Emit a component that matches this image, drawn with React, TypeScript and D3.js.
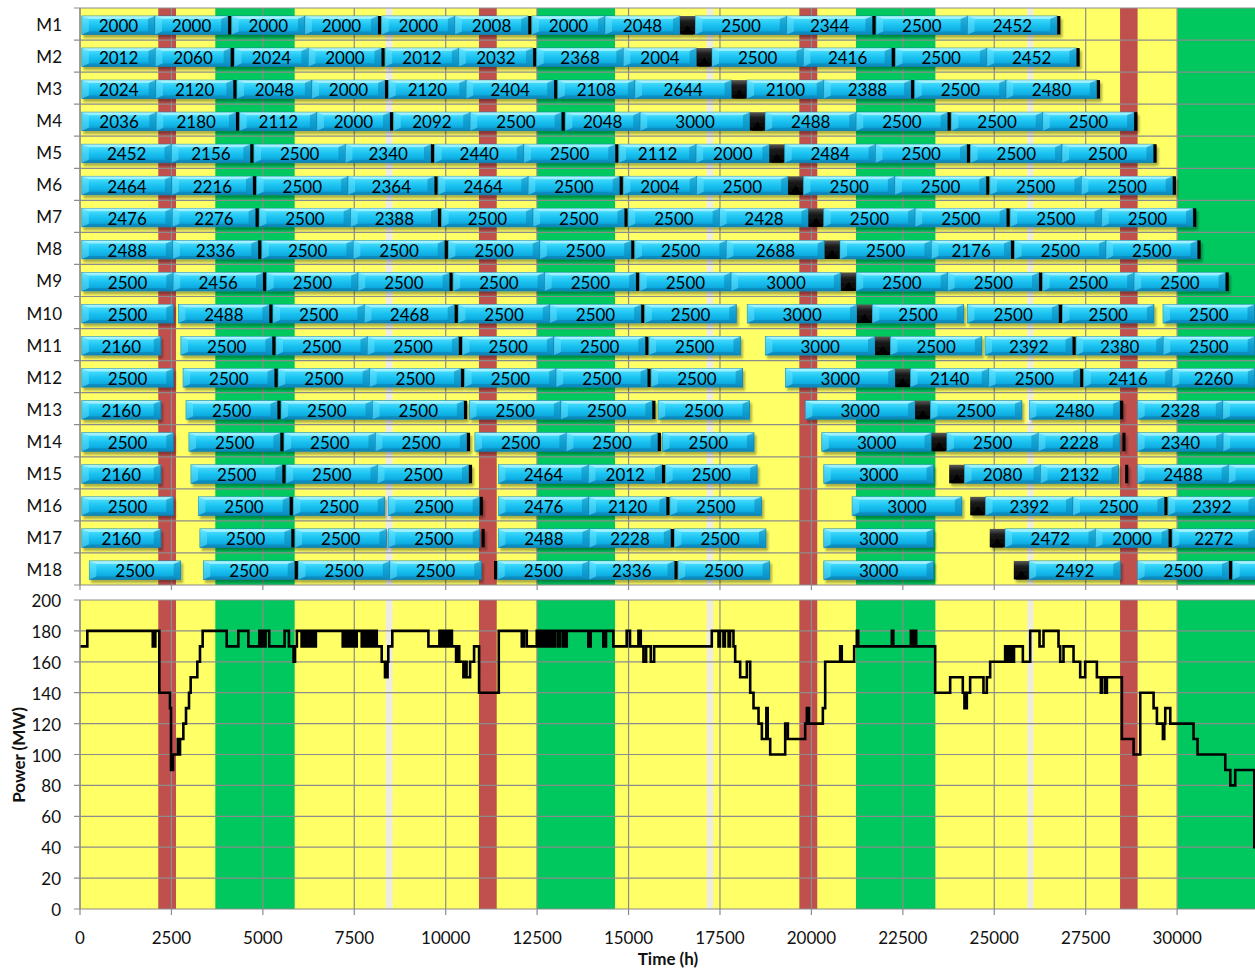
import React, { useEffect, useRef } from "react";
import * as d3 from "d3";

// --- time axis (hours) and background periods ---
const X_MAX = 32130;
const timeTicks = [0, 2500, 5000, 7500, 10000, 12500, 15000, 17500, 20000, 22500, 25000, 27500, 30000];
const powerTicks = [0, 20, 40, 60, 80, 100, 120, 140, 160, 180, 200];

const redStart = [2140, 10910, 19670, 28440];
const redEnd = [2625, 11395, 20160, 28920];
const greenStart = [3700, 12488, 21220, 30005];
const greenEnd = [5870, 14630, 23390, X_MAX];
const greyStart = [8360, 17137, 25905];
const greyEnd = [8550, 17318, 26070];

// --- machine schedules ---
// positive number = running hours (labelled bar), negative number = idle hours,
// "m" = short maintenance stop, "M" = major overhaul
type Seg = number | "m" | "M";
const START_H = 50;
const MINOR_H = 100;
const MAJOR_H = 420;

const M1: Seg[] = [2000, 2000, "m", 2000, 2000, "m", 2000, 2008, "m", 2000, 2048, "M", 2500, 2344, "m", 2500, 2452, "m"];
const M2: Seg[] = [2012, 2060, "m", 2024, 2000, "m", 2012, 2032, "m", 2368, 2004, "M", 2500, 2416, "m", 2500, 2452, "m"];
const M3: Seg[] = [2024, 2120, "m", 2048, 2000, "m", 2120, 2404, "m", 2108, 2644, "M", 2100, 2388, "m", 2500, 2480, "m"];
const M4: Seg[] = [2036, 2180, "m", 2112, 2000, "m", 2092, 2500, "m", 2048, 3000, "M", 2488, 2500, "m", 2500, 2500, "m"];
const M5: Seg[] = [2452, 2156, "m", 2500, 2340, "m", 2440, 2500, "m", 2112, 2000, "M", 2484, 2500, "m", 2500, 2500, "m"];
const M6: Seg[] = [2464, 2216, "m", 2500, 2364, "m", 2464, 2500, "m", 2004, 2500, "M", 2500, 2500, "m", 2500, 2500, "m"];
const M7: Seg[] = [2476, 2276, "m", 2500, 2388, "m", 2500, 2500, "m", 2500, 2428, "M", 2500, 2500, "m", 2500, 2500, "m"];
const M8: Seg[] = [2488, 2336, "m", 2500, 2500, "m", 2500, 2500, "m", 2500, 2688, "M", 2500, 2176, "m", 2500, 2500, "m"];
const M9: Seg[] = [2500, 2456, "m", 2500, 2500, "m", 2500, 2500, "m", 2500, 3000, "M", 2500, 2500, "m", 2500, 2500, "m"];
const M10: Seg[] = [2500, -140, 2488, "m", 2500, 2468, "m", 2500, 2500, "m", 2500, -300, 3000, "M", 2500, -100, 2500, "m", 2500, -250, 2500];
const M11: Seg[] = [2160, -550, 2500, "m", 2500, 2500, "m", 2500, 2500, "m", 2500, -680, 3000, "M", 2500, -90, 2392, "m", 2380, 2500];
const M12: Seg[] = [2500, -270, 2500, "m", 2500, 2500, "m", 2500, 2500, "m", 2500, -1170, 3000, "M", 2140, 2500, "m", 2416, 2260];
const M13: Seg[] = [2160, -690, 2500, "m", 2500, 2500, "m", -50, 2500, 2500, "m", -60, 2500, -1525, 3000, "M", 2500, -205, 2480, "m", -383, 2328, 2500];
const M14: Seg[] = [2500, -430, 2500, "m", 2500, 2500, "m", -120, 2500, 2500, "m", -30, 2500, -1855, 3000, "M", 2500, 2228, -70, "m", -317, 2340, 2500];
const M15: Seg[] = [2160, -825, 2500, "m", 2500, 2500, "m", -705, 2464, 2012, "m", 2500, -1824, 3000, -427, "M", 2080, 2132, -180, "m", -240, 2488, 2500];
const M16: Seg[] = [2500, -685, 2500, "m", 2500, -95, 2500, "m", -410, 2476, 2120, "m", 2500, -2478, 3000, -228, "M", 2392, 2500, "m", 2392];
const M17: Seg[] = [2160, -1070, 2500, "m", 2500, -50, 2500, -50, "m", -360, 2488, 2228, "m", 2500, -1584, 3000, -1537, "M", 2472, 2000, "m", 2272];
const M18: Seg[] = [-204, 2500, -618, 2500, "m", 2500, 2500, -350, "m", 2500, 2336, "m", 2500, -1482, 3000, -2195, "M", 2492, -473, 2500, "m", 2500];

const machineNames = ["M1", "M2", "M3", "M4", "M5", "M6", "M7", "M8", "M9", "M10", "M11", "M12", "M13", "M14", "M15", "M16", "M17", "M18"];
const schedules = [M1, M2, M3, M4, M5, M6, M7, M8, M9, M10, M11, M12, M13, M14, M15, M16, M17, M18];

// --- plant power output, step changes [hour, MW] ---
const powerSteps: [number, number][] = [
  [0, 170], [200, 180], [1990, 170], [2060, 180], [2169, 140], [2461, 130], [2489, 90], [2544, 100], [2672, 110], [2710, 100],
  [2735, 110], [2826, 120], [2899, 130], [2981, 140], [3026, 150], [3208, 160], [3281, 170], [3354, 180],
  [4011, 170], [4330, 180], [4603, 170], [4905, 180], [4950, 170], [4990, 180], [5030, 170], [5075, 180], [5175, 170],
  [5594, 180], [5713, 170], [5840, 160], [5880, 170], [5930, 180],
  [6060, 170], [6090, 180], [6124, 170], [6150, 180], [6197, 170], [6225, 180], [6270, 170], [6295, 180], [6334, 170],
  [6360, 180], [6425, 170], [6450, 180],
  [7184, 170], [7215, 180], [7250, 170], [7290, 180], [7320, 170], [7360, 180], [7400, 170], [7440, 180], [7480, 170],
  [7520, 180], [7545, 170], [7567, 180],
  [7704, 170], [7740, 180], [7780, 170], [7820, 180], [7850, 170], [7890, 180], [7930, 170], [7970, 180], [8000, 170],
  [8040, 180], [8070, 170], [8100, 180], [8115, 170], [8250, 160], [8340, 150], [8410, 160], [8430, 170], [8540, 180],
  [9527, 170], [9828, 180], [9860, 170], [9900, 180], [9940, 170], [9980, 180], [10020, 170], [10060, 180], [10100, 170],
  [10140, 180], [10170, 170], [10284, 160], [10340, 170], [10370, 160], [10484, 150], [10540, 160], [10570, 150],
  [10667, 160], [10776, 170], [10913, 140], [11451, 180],
  [12080, 170], [12140, 180], [12217, 170], [12490, 180], [12540, 170], [12580, 180], [12640, 170], [12680, 180],
  [12740, 170], [12800, 180], [12860, 170], [12900, 180], [12950, 170], [13000, 180], [13080, 170], [13120, 180],
  [13200, 170], [13240, 180], [13270, 170], [13310, 180],
  [13900, 170], [13964, 180], [14310, 170], [14383, 180], [14584, 170], [14949, 180], [15040, 170], [15270, 180],
  [15334, 170], [15407, 160], [15480, 170], [15608, 160], [15700, 170],
  [17276, 180], [17460, 170], [17500, 180], [17595, 170], [17635, 180], [17735, 170], [17775, 180], [17869, 170],
  [17915, 160], [18052, 150], [18235, 160], [18326, 140], [18417, 130], [18554, 120], [18645, 110], [18768, 130],
  [18805, 110], [18873, 100], [19283, 120], [19356, 110], [19830, 120], [19876, 130], [19930, 120], [20313, 130],
  [20377, 160], [20786, 170], [20830, 160], [21169, 170], [21242, 180], [21280, 170], [22199, 180], [22240, 170],
  [22719, 180], [22780, 170], [22800, 180], [22865, 170], [23384, 140], [23794, 150], [24140, 140], [24185, 130],
  [24250, 140], [24340, 150], [24705, 140], [24797, 150], [24888, 160], [25298, 170], [25340, 160], [25380, 170],
  [25420, 160], [25460, 170], [25500, 160], [25540, 170], [25782, 160], [25983, 180], [26238, 170], [26347, 180],
  [26757, 170], [26803, 160], [26894, 170], [27168, 160], [27350, 150], [27487, 160], [27806, 150], [27915, 140],
  [27950, 150], [28034, 140], [28080, 150], [28490, 110], [28810, 100], [28992, 140], [29357, 130], [29448, 120],
  [29612, 110], [29649, 120], [29676, 130], [29813, 120], [30450, 110], [30560, 100], [31317, 90], [31454, 80],
  [31590, 90], [32110, 40], [32130, 40],
];

const FONT = "Lato, 'Open Sans', sans-serif";
const GRID = "#8c8c8c";

const App = () => {
  const svgRef = useRef<SVGSVGElement>(null);

  useEffect(() => {
    const svg = d3.select(svgRef.current);
    svg.selectAll("*").remove();

    const width = 1255;
    const height = 970;
    const left = 80;
    const topY0 = 8, topY1 = 585;
    const botY0 = 600, botY1 = 909;

    const x = d3.scaleLinear().domain([0, X_MAX]).range([left, width]);
    const row = d3.scaleBand().domain(machineNames).range([topY0, topY1]);
    const y = d3.scaleLinear().domain([0, 200]).range([botY1, botY0]);

    svg.attr("width", width).attr("height", height).style("font-family", FONT);

    const defs = svg.append("defs");
    const grad = defs.append("linearGradient").attr("id", "barFace").attr("x1", 0).attr("y1", 0).attr("x2", 0).attr("y2", 1);
    [["0%", "#9af3ff"], ["18%", "#3fd8fc"], ["55%", "#16bfef"], ["100%", "#0a9bd4"]].forEach(([o, c]) =>
      grad.append("stop").attr("offset", o).attr("stop-color", c)
    );
    const sq = defs.append("linearGradient").attr("id", "sqFace").attr("x1", 0).attr("y1", 0).attr("x2", 0).attr("y2", 1);
    [["0%", "#5a5a5a"], ["30%", "#1c1c1c"], ["100%", "#000"]].forEach(([o, c]) =>
      sq.append("stop").attr("offset", o).attr("stop-color", c)
    );
    const filt = defs.append("filter").attr("id", "shadow").attr("x", "-5%").attr("y", "-30%").attr("width", "110%").attr("height", "180%");
    filt.append("feDropShadow").attr("dx", 2).attr("dy", 3).attr("stdDeviation", 1.3)
      .attr("flood-color", "#000").attr("flood-opacity", 0.32);

    // background periods for both panels
    const drawBands = (y0: number, y1: number) => {
      const g = svg.append("g");
      g.append("rect").attr("x", left).attr("y", y0).attr("width", width - left).attr("height", y1 - y0).attr("fill", "#ffff66");
      const add = (s: number[], e: number[], color: string) =>
        s.forEach((v, i) =>
          g.append("rect").attr("x", x(v)).attr("y", y0).attr("width", x(e[i]) - x(v)).attr("height", y1 - y0).attr("fill", color)
        );
      add(greenStart, greenEnd, "#00c85f");
      add(redStart, redEnd, "#c0504d");
      add(greyStart, greyEnd, "#eeece1");
    };
    drawBands(topY0, topY1);
    drawBands(botY0, botY1);

    // grid lines
    const grid = svg.append("g").attr("stroke", GRID).attr("stroke-width", 1.2);
    timeTicks.forEach((t) => {
      grid.append("line").attr("x1", x(t)).attr("x2", x(t)).attr("y1", topY0).attr("y2", topY1 + 5);
      grid.append("line").attr("x1", x(t)).attr("x2", x(t)).attr("y1", botY0).attr("y2", botY1 + 6);
    });
    const rowEdges = machineNames.map((n) => row(n) as number).concat([topY1]);
    rowEdges.forEach((yy) => grid.append("line").attr("x1", left - 6).attr("x2", width).attr("y1", yy).attr("y2", yy));
    powerTicks.forEach((p) => grid.append("line").attr("x1", left - 6).attr("x2", width).attr("y1", y(p)).attr("y2", y(p)));

    // machine bars
    const barH = 18.5;
    const barOff = 8;
    const bevelX = 7, bevelY = 3;
    const labels: { cx: number; cy: number; text: string }[] = [];

    schedules.forEach((segs, i) => {
      const top = (row(machineNames[i]) as number) + barOff;
      const bot = top + barH;
      const g = svg.append("g").attr("filter", "url(#shadow)");
      let t = START_H;
      segs.forEach((s) => {
        if (typeof s === "number") {
          if (s < 0) { t += -s; return; }
          const x0 = x(t), x1 = x(t + s);
          const bar = g.append("g");
          bar.append("rect").attr("x", x0).attr("y", top).attr("width", x1 - x0).attr("height", barH)
            .attr("fill", "url(#barFace)").attr("stroke", "#0b7fb0").attr("stroke-width", 0.7);
          const poly = (pts: number[][], fill: string, op: number) =>
            bar.append("polygon").attr("points", pts.map((p) => p.join(",")).join(" ")).attr("fill", fill).attr("opacity", op);
          poly([[x0, top], [x1, top], [x1 - bevelX, top + bevelY], [x0 + bevelX, top + bevelY]], "#c8fbff", 0.55);
          poly([[x0, bot], [x1, bot], [x1 - bevelX, bot - bevelY], [x0 + bevelX, bot - bevelY]], "#06729f", 0.45);
          poly([[x0, top], [x0 + bevelX, top + bevelY], [x0 + bevelX, bot - bevelY], [x0, bot]], "#6fe6ff", 0.45);
          poly([[x1, top], [x1 - bevelX, top + bevelY], [x1 - bevelX, bot - bevelY], [x1, bot]], "#087fb2", 0.5);
          labels.push({ cx: (x0 + x1) / 2, cy: top + barH / 2 + 0.5, text: String(s) });
          t += s;
        } else if (s === "m") {
          const x0 = x(t), x1 = x(t + MINOR_H);
          g.append("rect").attr("x", x0).attr("y", top).attr("width", Math.max(2.5, x1 - x0 - 0.5)).attr("height", barH).attr("fill", "#000");
          t += MINOR_H;
        } else {
          const x0 = x(t), x1 = x(t + MAJOR_H);
          const sg = g.append("g");
          sg.append("rect").attr("x", x0).attr("y", top).attr("width", x1 - x0).attr("height", barH).attr("fill", "url(#sqFace)");
          sg.append("polygon")
            .attr("points", [[x0 + 2, bot], [x1 - 2, bot], [(x0 + x1) / 2, top + barH / 2]].map((p) => p.join(",")).join(" "))
            .attr("fill", "#000");
          t += MAJOR_H;
        }
      });
    });

    svg.append("g").selectAll("text").data(labels.filter((l) => l.cx < width - 12)).join("text")
      .attr("x", (d) => d.cx).attr("y", (d) => d.cy)
      .attr("text-anchor", "middle").attr("dominant-baseline", "central")
      .attr("font-size", 17).attr("fill", "#000").text((d) => d.text);

    // row labels
    svg.append("g").selectAll("text").data(machineNames).join("text")
      .attr("x", 62).attr("y", (d) => (row(d) as number) + row.bandwidth() / 2 + 0.5)
      .attr("text-anchor", "end").attr("dominant-baseline", "central")
      .attr("font-size", 17).attr("fill", "#111").text((d) => d);

    // power line
    const line = d3.line<[number, number]>().x((d) => x(d[0])).y((d) => y(d[1])).curve(d3.curveStepAfter);
    svg.append("path").datum(powerSteps).attr("d", line).attr("fill", "none")
      .attr("stroke", "#000").attr("stroke-width", 2.6).attr("stroke-linejoin", "miter");

    // axis lines
    const ax = svg.append("g").attr("stroke", GRID).attr("stroke-width", 1.2);
    ax.append("line").attr("x1", left).attr("x2", left).attr("y1", topY0).attr("y2", topY1);
    ax.append("line").attr("x1", left).attr("x2", left).attr("y1", botY0).attr("y2", botY1);

    // axis labels
    svg.append("g").selectAll("text").data(powerTicks).join("text")
      .attr("x", 61).attr("y", (d) => y(d) + 0.5)
      .attr("text-anchor", "end").attr("dominant-baseline", "central")
      .attr("font-size", 17).attr("fill", "#111").text((d) => d);

    svg.append("g").selectAll("text").data(timeTicks).join("text")
      .attr("x", (d) => x(d)).attr("y", 937)
      .attr("text-anchor", "middle").attr("dominant-baseline", "central")
      .attr("font-size", 17).attr("fill", "#111").text((d) => d);

    svg.append("text").attr("x", 668).attr("y", 958).attr("text-anchor", "middle").attr("dominant-baseline", "central")
      .attr("font-size", 17).attr("font-weight", "bold").attr("fill", "#111").text("Time (h)");

    svg.append("text").attr("transform", "translate(18,755) rotate(-90)")
      .attr("text-anchor", "middle").attr("dominant-baseline", "central")
      .attr("font-size", 17).attr("font-weight", "bold").attr("fill", "#111").text("Power (MW)");
  }, []);

  return (
    <div style={{ position: "absolute", left: 0, top: 0 }}>
      <svg ref={svgRef} style={{ display: "block", background: "#fff" }}></svg>
    </div>
  );
};

export default App;
